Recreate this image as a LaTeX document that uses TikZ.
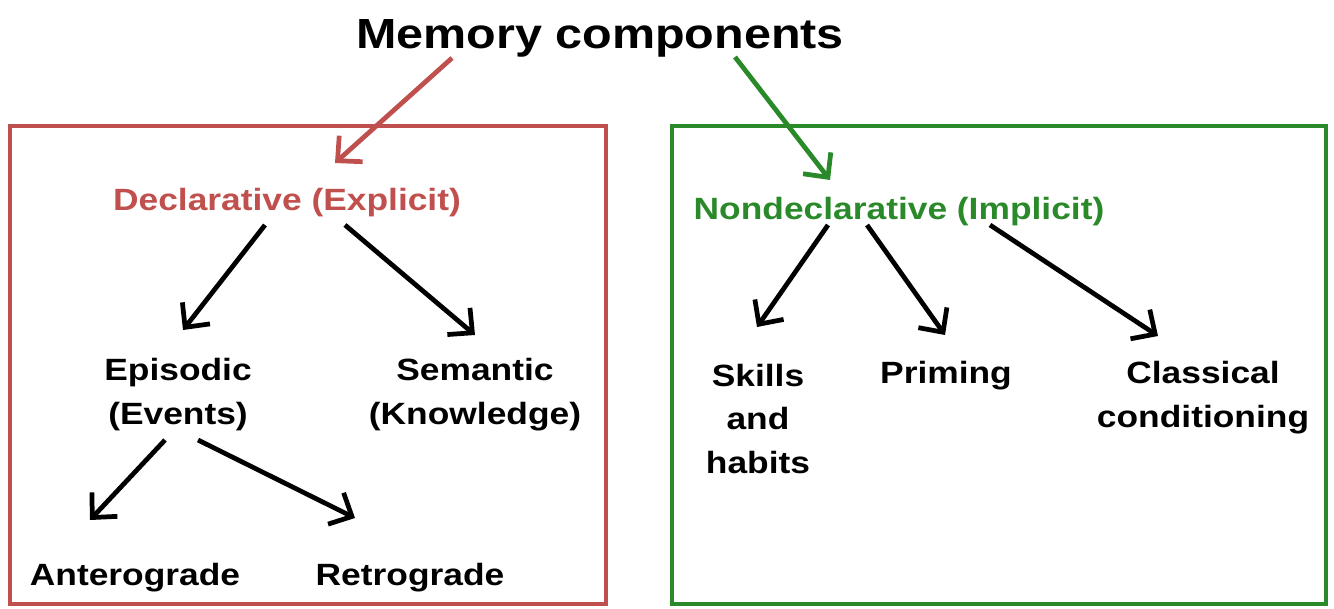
\documentclass[tikz,border=0pt]{standalone}
\usepackage{fontspec}
\usepackage{xcolor}
\usepackage{tikz}
\usetikzlibrary{arrows.meta,calc}
\newfontfamily\diagfont{Liberation Sans}[FakeStretch=1.15]
\definecolor{declred}{HTML}{C0504D}
\definecolor{nondgreen}{HTML}{2A8A2A}

\begin{document}
\begin{tikzpicture}[
  x=0.02cm, y=-0.02cm,
  item/.style={inner sep=0pt, align=center, font=\diagfont\bfseries\fontsize{17.5}{25}\selectfont},
  head/.style={inner sep=0pt, align=center, font=\diagfont\bfseries\fontsize{24}{28}\selectfont},
  panel/.style={line width=1.8pt},
  arr/.style ={-{Straight Barb[length=3.6mm, width=7mm]}, line width=2.7pt, black},
]
  \useasboundingbox (0,0) rectangle (1334,608);

  \draw[panel, declred]   (10,126)  rectangle (606,604);
  \draw[panel, nondgreen] (672,126) rectangle (1326,604);

  \node[head] (mem)                        at (600,38)  {Memory components};
  \node[item, text=declred] (decl)         at (287,203) {Declarative (Explicit)};
  \node[item, text=nondgreen] (nondecl)    at (899,212) {Nondeclarative (Implicit)};

  \node[item] (epis)   at (178,395)  {Episodic\\(Events)};
  \node[item] (sem)    at (475,395)  {Semantic\\(Knowledge)};
  \node[item] (antero) at (135,578)  {Anterograde};
  \node[item] (retro)  at (410,578)  {Retrograde};

  \node[item] (skills) at (758,419)  {Skills\\and\\habits};
  \node[item] (prim)   at (946,376)  {Priming};
  \node[item] (class)  at (1203,398) {Classical\\conditioning};

  \draw[arr, declred]   ($(mem)+(-148,20)$) -- ($(decl)+(48,-40)$);
  \draw[arr, nondgreen] ($(mem)+(135,19)$)  -- ($(nondecl)+(-69,-32)$);

  \draw[arr] ($(decl)+(-22,22)$) -- ($(epis)+(5,-65)$);
  \draw[arr] ($(decl)+(58,22)$)  -- ($(sem)+(0,-60)$);
  \draw[arr] ($(epis)+(-13,45)$) -- ($(antero)+(-45,-58)$);
  \draw[arr] ($(epis)+(20,45)$)  -- ($(retro)+(-55,-60)$);

  \draw[arr] ($(nondecl)+(-71,13)$) -- ($(skills)+(-1,-92)$);
  \draw[arr] ($(nondecl)+(-32,13)$) -- ($(prim)+(-1,-41)$);
  \draw[arr] ($(nondecl)+(91,13)$)  -- ($(class)+(-45,-62)$);
\end{tikzpicture}
\end{document}
